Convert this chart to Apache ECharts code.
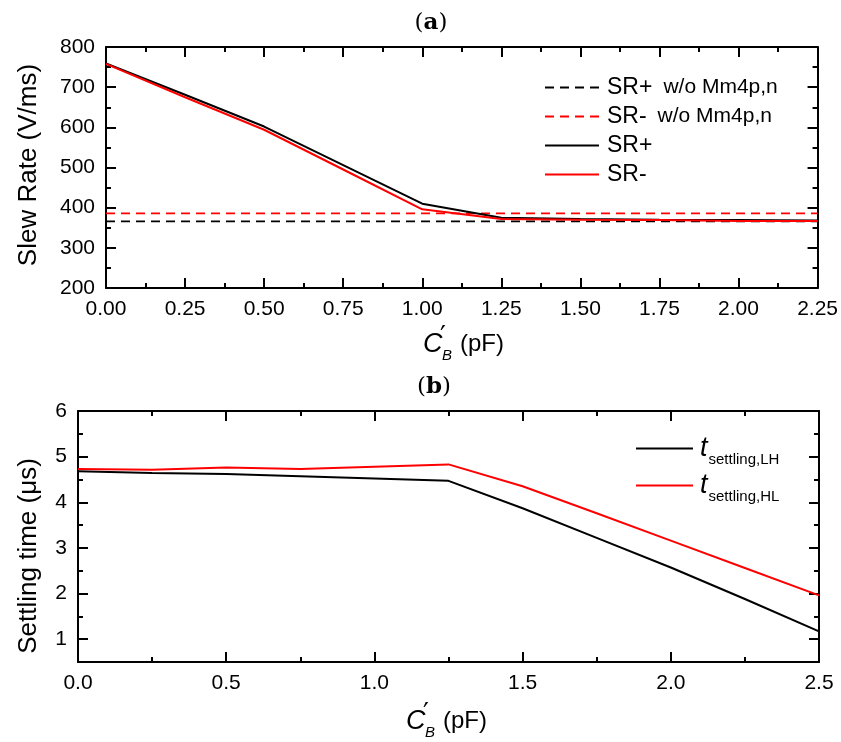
<!DOCTYPE html>
<html>
<head>
<meta charset="utf-8">
<script src="https://cdn.jsdelivr.net/npm/echarts@6/dist/echarts.min.js"></script>
<style>
  html, body { margin: 0; padding: 0; background: #fff; }
  #main { width: 841px; height: 742px; }
</style>
</head>
<body>
<div id="main"></div>
<script>
  /* 데이터 */
  // (a) Slew rate vs C'B
  var capA = [0, 0.25, 0.5, 0.75, 1.0, 1.25, 1.5, 1.75, 2.0, 2.25];
  var srPlus = [759, 681, 602, 506, 410, 375, 372, 370, 369, 368];
  var srMinus = [758, 675, 594, 495, 396, 372, 370, 369, 367, 367];
  var srPlusWo = [366, 366, 366, 366, 366, 366, 366, 366, 366, 366];
  var srMinusWo = [386, 386, 386, 386, 386, 386, 386, 386, 386, 386];

  // (b) Settling time vs C'B
  var capB = [0, 0.25, 0.5, 0.75, 1.0, 1.25, 1.5, 1.75, 2.0, 2.25, 2.5];
  var tLH = [4.68, 4.64, 4.62, 4.57, 4.52, 4.47, 3.87, 3.22, 2.57, 1.88, 1.17];
  var tHL = [4.73, 4.71, 4.76, 4.73, 4.78, 4.83, 4.35, 3.76, 3.16, 2.56, 1.96];

  function pairs(xs, ys) {
    return xs.map(function (x, i) { return [x, ys[i]]; });
  }

  var font = 'Liberation Sans, Arial, sans-serif';

  // 테두리용 축 (눈금 안쪽)
  function frameAxis(gridIndex, pos, min, max, interval, labels, fmt) {
    var ax = {
      type: 'value',
      gridIndex: gridIndex,
      position: pos,
      min: min,
      max: max,
      axisLine: { show: true, onZero: false, lineStyle: { color: '#000', width: 2 } },
      axisTick: { show: true, inside: true, length: 10, lineStyle: { color: '#000', width: 2 } },
      minorTick: { show: true, splitNumber: 2, length: 5, lineStyle: { color: '#000', width: 2 } },
      splitLine: { show: false },
      axisLabel: {
        show: labels,
        color: '#000',
        fontFamily: font,
        fontSize: 21,
        margin: 11,
        formatter: fmt
      }
    };
    if (interval != null) ax.interval = interval;
    return ax;
  }

  function intOnly(v) {
    return Math.abs(v - Math.round(v)) < 1e-6 ? String(Math.round(v)) : '';
  }

  // C'_B (pF) 축 제목
  function capTitle(cx, cy) {
    var L = cx - 42;
    return {
      type: 'group',
      children: [
        { type: 'text', x: L, y: cy, style: { text: 'C', font: 'italic 27px ' + font, fill: '#000', textVerticalAlign: 'middle' } },
        { type: 'text', x: L + 17, y: cy - 6, style: { text: '\u2032', font: '26px DejaVu Sans', fill: '#000', textVerticalAlign: 'middle' } },
        { type: 'text', x: L + 19, y: cy + 12, style: { text: 'B', font: 'italic 15px ' + font, fill: '#000', textVerticalAlign: 'middle' } },
        { type: 'text', x: L + 37, y: cy, style: { text: '(pF)', font: '24px ' + font, fill: '#000', textVerticalAlign: 'middle' } }
      ]
    };
  }

  function panelTag(cx, cy, letter) {
    return {
      type: 'text',
      x: cx,
      y: cy,
      style: {
        text: '{n|(}{b|' + letter + '}{n|)}',
        textAlign: 'center',
        textVerticalAlign: 'middle',
        rich: {
          n: { fontFamily: 'DejaVu Serif', fontSize: 23, color: '#000' },
          b: { fontFamily: 'DejaVu Serif', fontSize: 23, fontWeight: 'bold', color: '#000' }
        }
      }
    };
  }

  function yTitle(cx, cy, text) {
    return {
      type: 'text',
      x: cx,
      y: cy,
      rotation: Math.PI / 2,
      style: {
        text: text,
        font: '26px ' + font,
        fill: '#000',
        textAlign: 'center',
        textVerticalAlign: 'middle'
      }
    };
  }

  var myChart = echarts.init(document.getElementById('main'));

  var option = {
    backgroundColor: '#fff',
    animation: false,
    grid: [
      { left: 106, right: 22, top: 47, height: 241 },
      { left: 78, right: 22, top: 411, height: 251 }
    ],
    xAxis: [
      frameAxis(0, 'bottom', 0, 2.25, 0.25, true, function (v) { return v.toFixed(2); }),
      frameAxis(0, 'top', 0, 2.25, 0.25, false),
      frameAxis(1, 'bottom', 0, 2.5, 0.5, true, function (v) { return v.toFixed(1); }),
      frameAxis(1, 'top', 0, 2.5, 0.5, false)
    ],
    yAxis: [
      frameAxis(0, 'left', 200, 800, 100, true),
      frameAxis(0, 'right', 200, 800, 100, false),
      frameAxis(1, 'left', 0.5, 6, null, true, intOnly),
      frameAxis(1, 'right', 0.5, 6, null, false)
    ],
    legend: [
      {
        data: ['SR+ w/o Mm4p,n', 'SR- w/o Mm4p,n', 'SR+', 'SR-'],
        orient: 'vertical',
        left: 539,
        top: 71,
        itemWidth: 54,
        itemHeight: 20,
        itemGap: 6,
        itemStyle: { opacity: 0 },
        formatter: function (name) {
          var p = name.split(' ');
          if (p.length > 1) return '{a|' + p[0] + '}{b|' + p.slice(1).join(' ') + '}';
          return '{a|' + name + '}';
        },
        textStyle: {
          padding: [0, 0, 0, 3],
          rich: {
            a: { fontFamily: font, fontSize: 23, color: '#000', lineHeight: 20 },
            b: { fontFamily: font, fontSize: 21, color: '#000', lineHeight: 20, padding: [0, 0, 0, 11] }
          }
        }
      },
      {
        data: ['tLH', 'tHL'],
        orient: 'vertical',
        left: 630,
        top: 425,
        itemWidth: 57,
        itemHeight: 38,
        itemGap: 0,
        itemStyle: { opacity: 0 },
        formatter: function (name) {
          return '{t|t}{s|' + (name === 'tLH' ? 'settling,LH' : 'settling,HL') + '}';
        },
        textStyle: {
          padding: [0, 0, 0, 2],
          rich: {
            t: { fontFamily: font, fontStyle: 'italic', fontSize: 27, color: '#000', lineHeight: 26 },
            s: { fontFamily: font, fontSize: 15, color: '#000', lineHeight: 15, padding: [22, 0, 0, 1] }
          }
        }
      }
    ],
    series: [
      {
        name: 'SR+ w/o Mm4p,n', type: 'line', xAxisIndex: 0, yAxisIndex: 0,
        symbol: 'none', data: pairs(capA, srPlusWo),
        lineStyle: { color: '#000', width: 1.8, type: [9, 6] }, itemStyle: { color: '#000' }
      },
      {
        name: 'SR- w/o Mm4p,n', type: 'line', xAxisIndex: 0, yAxisIndex: 0,
        symbol: 'none', data: pairs(capA, srMinusWo),
        lineStyle: { color: '#ff0000', width: 1.8, type: [9, 6] }, itemStyle: { color: '#ff0000' }
      },
      {
        name: 'SR+', type: 'line', xAxisIndex: 0, yAxisIndex: 0,
        symbol: 'none', data: pairs(capA, srPlus),
        lineStyle: { color: '#000', width: 2 }, itemStyle: { color: '#000' }
      },
      {
        name: 'SR-', type: 'line', xAxisIndex: 0, yAxisIndex: 0,
        symbol: 'none', data: pairs(capA, srMinus),
        lineStyle: { color: '#ff0000', width: 2 }, itemStyle: { color: '#ff0000' }
      },
      {
        name: 'tLH', type: 'line', xAxisIndex: 2, yAxisIndex: 2,
        symbol: 'none', data: pairs(capB, tLH),
        lineStyle: { color: '#000', width: 2 }, itemStyle: { color: '#000' }
      },
      {
        name: 'tHL', type: 'line', xAxisIndex: 2, yAxisIndex: 2,
        symbol: 'none', data: pairs(capB, tHL),
        lineStyle: { color: '#ff0000', width: 2 }, itemStyle: { color: '#ff0000' }
      }
    ],
    graphic: [
      panelTag(431, 23, 'a'),
      panelTag(434, 387, 'b'),
      yTitle(29, 165, 'Slew Rate (V/ms)'),
      yTitle(29, 556, 'Settling time (\u03bcs)'),
      capTitle(465, 344),
      capTitle(448, 721)
    ]
  };

  myChart.setOption(option);
</script>
</body>
</html>
